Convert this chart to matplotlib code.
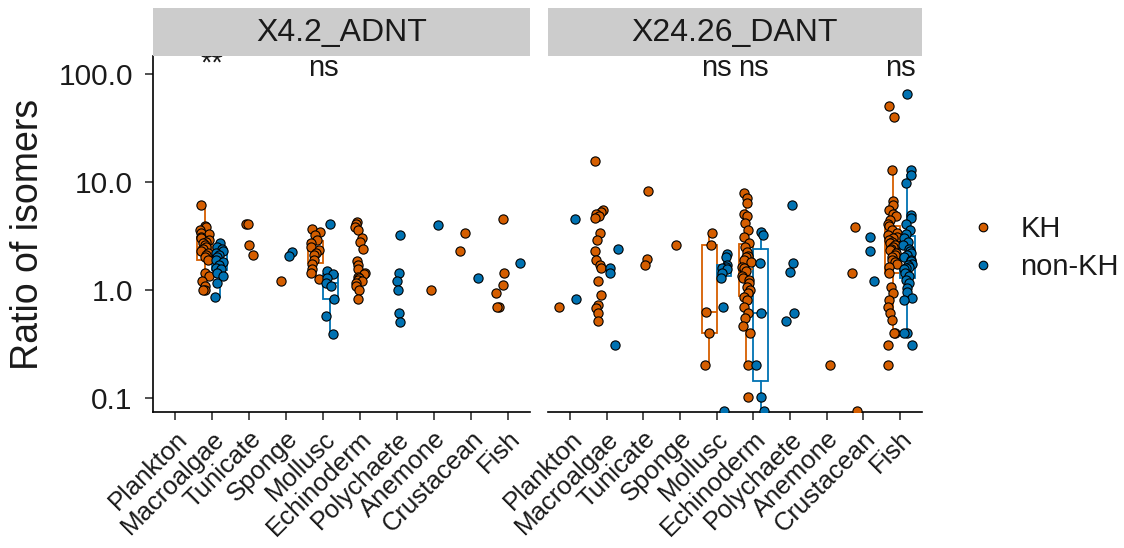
import numpy as np
import matplotlib
matplotlib.use("Agg")
import matplotlib.pyplot as plt
from matplotlib.lines import Line2D

plt.rcParams['font.family'] = ['Liberation Sans', 'DejaVu Sans']

# ---------------- data ----------------
CATEGORIES = ["Plankton", "Macroalgae", "Tunicate", "Sponge", "Mollusc",
              "Echinoderm", "Polychaete", "Anemone", "Crustacean", "Fish"]
PANELS = ["X4.2_ADNT", "X24.26_DANT"]
GROUPS = ["KH", "non-KH"]
COLORS = {"KH": "#D55E00", "non-KH": "#0072B2"}
Y_TICKS = [0.1, 1.0, 10.0, 100.0]
Y_TICK_LABELS = ["0.1", "1.0", "10.0", "100.0"]

ADNT_KH = {
    "Macroalgae": [6.1, 3.9, 3.8, 3.6, 3.4, 3.3, 3.1, 3.0, 2.9, 2.8, 2.7, 2.6, 2.5,
                   2.4, 2.3, 2.2, 2.1, 2.0, 1.9, 1.45, 1.35, 1.2, 1.1, 1.0, 1.0],
    "Tunicate": [4.1, 4.1, 2.6, 2.1],
    "Sponge": [1.2],
    "Mollusc": [3.7, 3.45, 3.2, 2.9, 2.7, 2.5, 2.35, 2.2, 2.1, 1.9, 1.75, 1.55, 1.43, 1.27],
    "Echinoderm": [4.3, 4.1, 3.85, 3.6, 3.0, 2.8, 2.4, 1.85, 1.7, 1.55, 1.45, 1.4,
                   1.33, 1.3, 1.25, 1.2, 1.15, 1.1, 1.0, 0.83],
    "Anemone": [1.0],
    "Crustacean": [3.35, 2.3],
    "Fish": [4.5, 1.45, 1.12, 0.93, 0.70, 0.70],
}
ADNT_NONKH = {
    "Macroalgae": [2.7, 2.5, 2.4, 2.3, 2.2, 2.1, 2.0, 1.9, 1.8, 1.7, 1.6, 1.55,
                   1.45, 1.35, 1.16, 0.87],
    "Sponge": [2.25, 2.05],
    "Mollusc": [4.1, 1.5, 1.4, 1.3, 1.15, 1.1, 0.83, 0.58, 0.39],
    "Polychaete": [3.2, 1.45, 1.2, 1.0, 0.61, 0.51],
    "Anemone": [4.0],
    "Crustacean": [1.3],
    "Fish": [1.78],
}
DANT_KH = {
    "Plankton": [0.70],
    "Macroalgae": [15.6, 5.5, 5.3, 5.1, 4.8, 4.6, 3.35, 2.9, 2.3, 1.9, 1.7, 1.6,
                   1.2, 0.89, 0.72, 0.68, 0.61, 0.52],
    "Tunicate": [8.3, 1.95, 1.7],
    "Sponge": [2.6],
    "Mollusc": [3.35, 2.6, 0.62, 0.40, 0.20],
    "Echinoderm": [7.9, 7.1, 6.35, 5.1, 4.8, 4.15, 3.6, 3.1, 2.7, 2.5, 2.25, 2.05,
                   2.0, 1.9, 1.8, 1.65, 1.6, 1.5, 1.35, 1.3, 1.25, 1.15, 1.07, 1.0,
                   0.93, 0.87, 0.81, 0.70, 0.61, 0.55, 0.46, 0.40, 0.20, 0.103],
    "Anemone": [0.20],
    "Crustacean": [3.85, 1.45, 0.075],
    "Fish": [51.0, 40.0, 12.9, 6.6, 6.1, 5.5, 5.1, 4.8, 4.45, 4.1, 3.9, 3.6, 3.35,
             3.2, 3.1, 3.0, 2.9, 2.8, 2.7, 2.6, 2.5, 2.4, 2.35, 2.2, 2.1, 2.0, 1.9,
             1.8, 1.75, 1.65, 1.43, 1.07, 0.93, 0.81, 0.70, 0.61, 0.53, 0.40, 0.40,
             0.31, 0.20],
}
DANT_NONKH = {
    "Plankton": [4.5, 0.82],
    "Macroalgae": [2.4, 1.6, 1.45, 0.31],
    "Mollusc": [2.15, 2.0, 1.7, 1.65, 1.6, 1.55, 1.45, 1.3, 0.70, 0.075],
    "Echinoderm": [3.47, 3.23, 1.79, 0.61, 0.20, 0.103, 0.075],
    "Polychaete": [6.1, 1.79, 1.48, 0.61, 0.52],
    "Crustacean": [3.07, 2.3, 1.21],
    "Fish": [66.0, 12.9, 11.6, 9.7, 5.0, 4.6, 4.1, 3.6, 3.3, 3.0, 2.8, 2.6, 2.4,
             2.3, 2.2, 2.1, 2.0, 1.9, 1.85, 1.75, 1.7, 1.65, 1.6, 1.55, 1.45, 1.35,
             1.25, 1.15, 1.05, 0.95, 0.85, 0.81, 0.40, 0.40, 0.31],
}
DATA = {"X4.2_ADNT": {"KH": ADNT_KH, "non-KH": ADNT_NONKH},
        "X24.26_DANT": {"KH": DANT_KH, "non-KH": DANT_NONKH}}

BOXED = {"X4.2_ADNT": ["Macroalgae", "Mollusc"],
         "X24.26_DANT": ["Mollusc", "Echinoderm", "Fish"]}
SIG_CATS = {"X4.2_ADNT": ["Macroalgae", "Mollusc"],
            "X24.26_DANT": ["Mollusc", "Echinoderm", "Fish"]}
SIG_LABELS = {"X4.2_ADNT": ["**", "ns"],
              "X24.26_DANT": ["ns", "ns", "ns"]}

# ---------------- layout ----------------
W, H = 1124, 548
fig = plt.figure(figsize=(W / 100, H / 100), dpi=100)

def frac(x0, x1, ytop, ybot):
    return [x0 / W, 1 - ybot / H, (x1 - x0) / W, (ybot - ytop) / H]

panel_x = [(153, 530), (548, 922)]
PANEL_TOP, PANEL_BOT = 56, 412
STRIP_TOP = 8

rng = np.random.default_rng(11)
DODGE = 0.2
BOXW = 0.4

def box_stats(vals):
    lv = np.log10(np.asarray(vals, float))
    q1, med, q3 = np.percentile(lv, [25, 50, 75])
    iqr = q3 - q1
    lo = lv[lv >= q1 - 1.5 * iqr].min()
    hi = lv[lv <= q3 + 1.5 * iqr].max()
    return dict(med=10 ** med, q1=10 ** q1, q3=10 ** q3,
                whislo=10 ** lo, whishi=10 ** hi, fliers=[])

axes = []
for pi, panel in enumerate(PANELS):
    x0, x1 = panel_x[pi]
    ax = fig.add_axes(frac(x0, x1, PANEL_TOP, PANEL_BOT))
    axes.append(ax)
    ax.set_yscale("log")
    ax.set_xlim(0.4, 10.6)
    ax.set_ylim(10 ** -1.13, 10 ** 2.167)

    groups = DATA[panel]
    for ci, cat in enumerate(CATEGORIES):
        xc = ci + 1
        present = [g for g in GROUPS if cat in groups[g]]
        for g in present:
            vals = np.asarray(groups[g][cat], float)
            off = 0.0
            if len(present) == 2:
                off = -DODGE if g == "KH" else DODGE
            if cat in BOXED[panel]:
                st = box_stats(vals)
                ax.bxp([st], positions=[xc + off], widths=BOXW, showcaps=False,
                       showfliers=False, patch_artist=True,
                       boxprops=dict(facecolor="none", edgecolor=COLORS[g], linewidth=1.3),
                       medianprops=dict(color=COLORS[g], linewidth=1.3),
                       whiskerprops=dict(color=COLORS[g], linewidth=1.3),
                       manage_ticks=False, zorder=2)
            jit = rng.uniform(-0.13, 0.13, len(vals))
            ax.scatter(xc + off + jit, vals, s=44, c=COLORS[g], edgecolors="black",
                       linewidths=0.8, zorder=3)

    # significance labels (clipped at panel top, as in the original)
    for cat, lab in zip(SIG_CATS[panel], SIG_LABELS[panel]):
        yfrac = 0.955 if lab.startswith("*") else 0.944
        ax.text(CATEGORIES.index(cat) + 1, yfrac, lab, transform=ax.get_xaxis_transform(),
                ha="center", va="baseline", fontsize=21, color="#1a1a1a", clip_on=True,
                zorder=5)

    ax.set_xticks(range(1, len(CATEGORIES) + 1))
    ax.set_xticklabels(CATEGORIES, rotation=45, ha="right", va="top",
                       rotation_mode="anchor", fontsize=18.5, color="#1a1a1a")
    ax.minorticks_off()
    ax.tick_params(axis="both", length=5.5, width=1.1, color="#222222")
    ax.tick_params(axis="x", pad=5)
    ax.tick_params(axis="y", pad=9)
    for s in ["top", "right"]:
        ax.spines[s].set_visible(False)
    ax.spines["bottom"].set_linewidth(1.2)
    ax.spines["left"].set_linewidth(1.2)
    if pi == 0:
        ax.set_yticks(Y_TICKS)
        ax.set_yticklabels(Y_TICK_LABELS, fontsize=21.5, color="#1a1a1a")
    else:
        ax.spines["left"].set_visible(False)
        ax.set_yticks(Y_TICKS)
        ax.tick_params(axis="y", left=False, labelleft=False)

    # strip
    sax = fig.add_axes(frac(x0, x1, STRIP_TOP, PANEL_TOP))
    sax.set_facecolor("#CCCCCC")
    sax.set_xticks([]); sax.set_yticks([])
    for s in sax.spines.values():
        s.set_visible(False)
    sax.text(0.5, 0.47, panel, ha="center", va="center", fontsize=23,
             color="#1a1a1a", transform=sax.transAxes)

fig.text(28 / W, 1 - 234 / H, "Ratio of isomers", rotation=90, ha="center",
         va="center", fontsize=27, color="#1a1a1a")

handles = [Line2D([], [], marker="o", linestyle="", markersize=6.2,
                  markerfacecolor=COLORS[g], markeredgecolor="black",
                  markeredgewidth=0.8) for g in GROUPS]
fig.legend(handles, GROUPS, loc="center left", bbox_to_anchor=(968 / W, 1 - 248 / H),
           frameon=False, fontsize=21, handlelength=1.0, handletextpad=0.8,
           labelspacing=0.35, borderpad=0, borderaxespad=0, labelcolor="#1a1a1a")

fig.savefig("out.png", dpi=100)
